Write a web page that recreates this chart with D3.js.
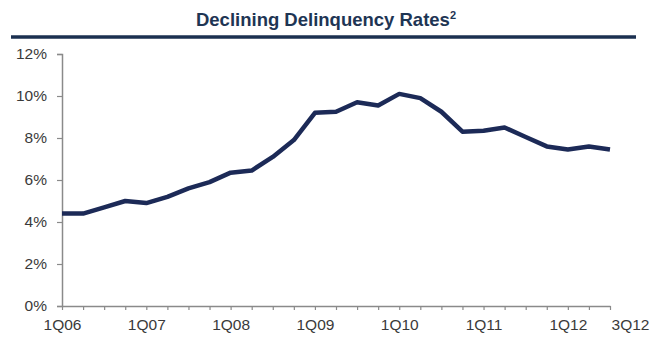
<!DOCTYPE html>
<html>
<head>
<meta charset="utf-8">
<script src="https://cdn.jsdelivr.net/npm/d3@7"></script>
<style>
  html, body { margin: 0; padding: 0; background: #fff; }
  svg { display: block; font-family: "Liberation Sans", Arial, sans-serif; }
</style>
</head>
<body>
<svg id="chart" width="654" height="341"></svg>
<script>
const quarters = ["1Q06","2Q06","3Q06","4Q06","1Q07","2Q07","3Q07","4Q07",
  "1Q08","2Q08","3Q08","4Q08","1Q09","2Q09","3Q09","4Q09",
  "1Q10","2Q10","3Q10","4Q10","1Q11","2Q11","3Q11","4Q11",
  "1Q12","2Q12","3Q12"];
const rates = [4.4, 4.4, 4.7, 5.0, 4.9, 5.2, 5.6, 5.9,
  6.35, 6.45, 7.1, 7.9, 9.2, 9.25, 9.7, 9.55,
  10.1, 9.9, 9.25, 8.3, 8.35, 8.5, 8.05, 7.6,
  7.45, 7.6, 7.45];
const yTicks = [0, 2, 4, 6, 8, 10, 12];
const xLabels = ["1Q06","1Q07","1Q08","1Q09","1Q10","1Q11","1Q12","3Q12"];
const title = "Declining Delinquency Rates";

const svg = d3.select("#chart");
const margin = {left: 62, right: 44, top: 54, bottom: 35};
const W = 654, H = 341;

const x = d3.scalePoint().domain(quarters).range([margin.left, W - margin.right]);
const y = d3.scaleLinear().domain([0, 12]).range([H - margin.bottom, margin.top]);

// Title
const t = svg.append("text")
  .attr("x", 326).attr("y", 26)
  .attr("text-anchor", "middle")
  .attr("font-weight", "bold")
  .attr("font-size", 18.5)
  .attr("fill", "#1e3554")
  .text(title);
t.append("tspan").attr("font-size", 11).attr("dy", -7).text("2");

svg.append("line")
  .attr("x1", 11).attr("x2", 636)
  .attr("y1", 37).attr("y2", 37)
  .attr("stroke", "#1b3050").attr("stroke-width", 3.5);

// Y axis
const yAxis = d3.axisLeft(y).tickValues(yTicks).tickSize(5).tickPadding(10)
  .tickFormat(d => d + "%");
const gy = svg.append("g").attr("transform", `translate(${margin.left},0)`).call(yAxis);
gy.select(".domain").attr("stroke", "#8a8a8a").attr("stroke-width", 1.5);
gy.selectAll(".tick line").attr("stroke", "#8a8a8a").attr("stroke-width", 1.2);
gy.selectAll(".tick text").attr("font-size", 15.5).attr("fill", "#3a3a3a")
  .attr("font-family", "Liberation Sans, Arial, sans-serif");

// X axis (ticks at every quarter)
const xAxis = d3.axisBottom(x).tickSize(4).tickSizeOuter(0).tickPadding(9)
  .tickFormat(d => xLabels.includes(d) ? d : "");
const gx = svg.append("g").attr("transform", `translate(0,${H - margin.bottom})`).call(xAxis);
gx.select(".domain").attr("stroke", "#8a8a8a").attr("stroke-width", 1.5);
gx.selectAll(".tick line").attr("stroke", "#8a8a8a").attr("stroke-width", 1.2);
gx.selectAll(".tick text").attr("font-size", 15.5).attr("fill", "#3a3a3a")
  .attr("font-family", "Liberation Sans, Arial, sans-serif");
gx.selectAll(".tick text").filter(d => d === "3Q12").attr("dx", 20);

// Line
const line = d3.line().x((d, i) => x(quarters[i])).y(d => y(d));
svg.append("path")
  .datum(rates)
  .attr("d", line)
  .attr("fill", "none")
  .attr("stroke", "#1c2a57")
  .attr("stroke-width", 4.5)
  .attr("stroke-linejoin", "round")
  .attr("stroke-linecap", "butt");
</script>
</body>
</html>
